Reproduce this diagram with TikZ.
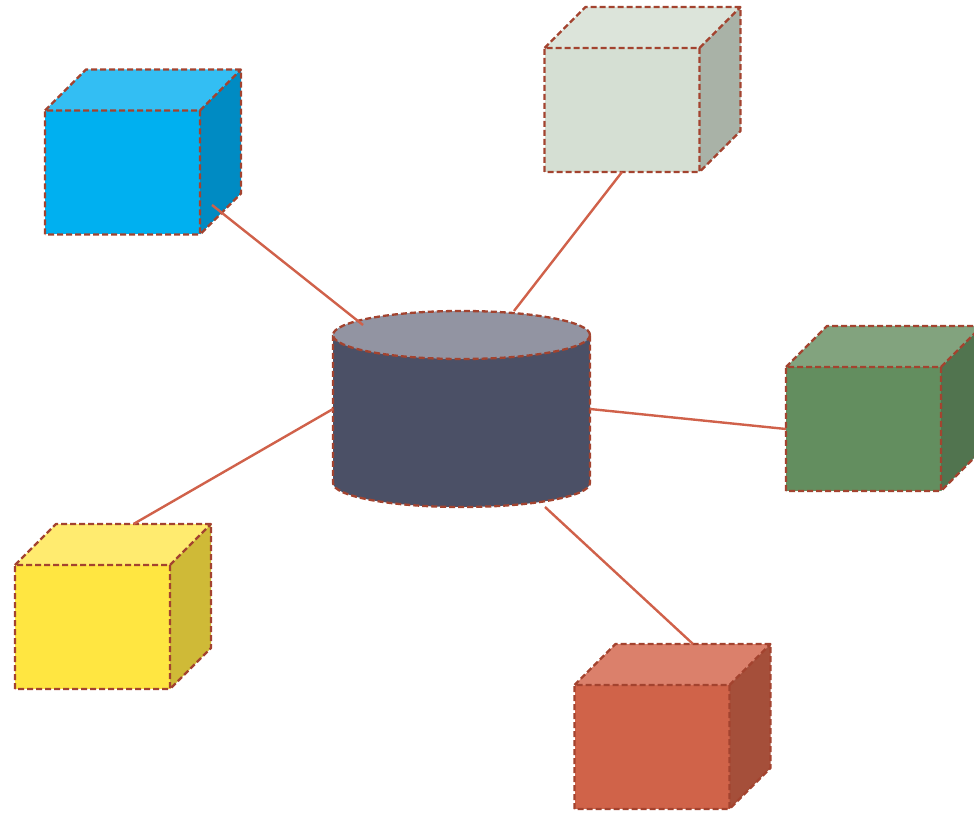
\documentclass[tikz,border=0pt]{standalone}
\usetikzlibrary{positioning}

\definecolor{edge}{HTML}{A3432F}
\definecolor{link}{HTML}{D0614A}
\definecolor{blueF}{HTML}{00B0F0}
\definecolor{blueT}{HTML}{33BEF3}
\definecolor{blueS}{HTML}{008BC3}
\definecolor{sageF}{HTML}{D5DFD3}
\definecolor{sageT}{HTML}{DCE4DA}
\definecolor{sageS}{HTML}{A9B2A7}
\definecolor{greenF}{HTML}{638E5F}
\definecolor{greenT}{HTML}{82A37E}
\definecolor{greenS}{HTML}{51744F}
\definecolor{yellowF}{HTML}{FFE641}
\definecolor{yellowT}{HTML}{FFEB6F}
\definecolor{yellowS}{HTML}{CFBA37}
\definecolor{redF}{HTML}{D06349}
\definecolor{redT}{HTML}{DB806B}
\definecolor{redS}{HTML}{A54F3A}
\definecolor{dbBody}{HTML}{4B5066}
\definecolor{dbTop}{HTML}{9294A2}

\begin{document}
\begin{tikzpicture}
[x=1pt,y=1pt,
 face/.style={draw=edge,line width=2.3pt,dash pattern=on 6pt off 3pt,line join=round},
 front/.style={rectangle,minimum width=155pt,minimum height=124pt,inner sep=0pt,outer sep=0pt},
 hub/.style={rectangle,minimum width=257pt,minimum height=196pt,inner sep=0pt,outer sep=0pt},
 link/.style={draw=link,line width=2.4pt}]
\useasboundingbox (0,0) rectangle (974,812);

% cubes: front face is the node, top and side faces hang off its anchors
\node[front,fill=blueF] (blue) at (122.5,639.5) {};
\fill[blueT] (blue.north west) -- ++(41,41) -- ++(155,0) -- (blue.north east) -- cycle;
\fill[blueS] (blue.north east) -- ++(41,41) -- ++(0,-124) -- (blue.south east) -- cycle;
\draw[face] (blue.south west) rectangle (blue.north east) (blue.north west) -- ++(41,41) -- ++(155,0) -- ++(0,-124) -- (blue.south east) (blue.north east) -- ++(41,41);

\node[front,fill=sageF] (sage) at (622,702) {};
\fill[sageT] (sage.north west) -- ++(41,41) -- ++(155,0) -- (sage.north east) -- cycle;
\fill[sageS] (sage.north east) -- ++(41,41) -- ++(0,-124) -- (sage.south east) -- cycle;
\draw[face] (sage.south west) rectangle (sage.north east) (sage.north west) -- ++(41,41) -- ++(155,0) -- ++(0,-124) -- (sage.south east) (sage.north east) -- ++(41,41);

\node[front,fill=greenF] (green) at (863.5,383) {};
\fill[greenT] (green.north west) -- ++(41,41) -- ++(155,0) -- (green.north east) -- cycle;
\fill[greenS] (green.north east) -- ++(41,41) -- ++(0,-124) -- (green.south east) -- cycle;
\draw[face] (green.south west) rectangle (green.north east) (green.north west) -- ++(41,41) -- ++(155,0) -- ++(0,-124) -- (green.south east) (green.north east) -- ++(41,41);

\node[front,fill=yellowF] (yellow) at (92.5,185) {};
\fill[yellowT] (yellow.north west) -- ++(41,41) -- ++(155,0) -- (yellow.north east) -- cycle;
\fill[yellowS] (yellow.north east) -- ++(41,41) -- ++(0,-124) -- (yellow.south east) -- cycle;
\draw[face] (yellow.south west) rectangle (yellow.north east) (yellow.north west) -- ++(41,41) -- ++(155,0) -- ++(0,-124) -- (yellow.south east) (yellow.north east) -- ++(41,41);

\node[front,fill=redF] (red) at (652,65) {};
\fill[redT] (red.north west) -- ++(41,41) -- ++(155,0) -- (red.north east) -- cycle;
\fill[redS] (red.north east) -- ++(41,41) -- ++(0,-124) -- (red.south east) -- cycle;
\draw[face] (red.south west) rectangle (red.north east) (red.north west) -- ++(41,41) -- ++(155,0) -- ++(0,-124) -- (red.south east) (red.north east) -- ++(41,41);

% the store in the middle
\node[hub] (db) at (461.5,403) {};
\fill[dbBody] (333,477) -- (333,329) arc[start angle=180,end angle=360,x radius=128.5,y radius=24] -- (590,477) -- cycle;
\draw[face] (333,477) -- (333,329) arc[start angle=180,end angle=360,x radius=128.5,y radius=24] -- (590,477);
\filldraw[face,fill=dbTop] (461.5,477) ellipse[x radius=128.5,y radius=24];

% connector ends
\coordinate (blueEnd) at (212,607);
\coordinate (dbBlue)  at (363,487);
\coordinate (dbSage)  at ([xshift=52.5pt]db.north);
\coordinate (dbRed)   at ([xshift=83.5pt]db.south);

\path[link] (blueEnd)   edge (dbBlue);
\path[link] (sage.south) edge (dbSage);
\path[link] (db.east)   edge (green.west);
\path[link] (db.west)   edge ([shift={(41,41)}]yellow.north);
\path[link] (dbRed)     edge ([shift={(41,41)}]red.north);
\end{tikzpicture}
\end{document}
